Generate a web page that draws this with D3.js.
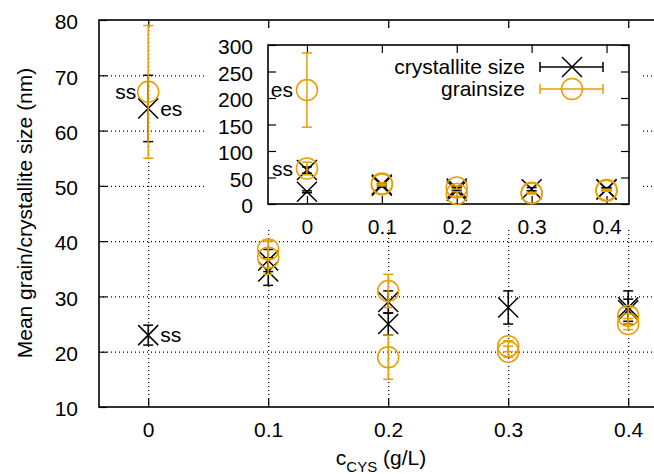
<!DOCTYPE html>
<html>
<head>
<meta charset="utf-8">
<script src="https://d3js.org/d3.v7.min.js"></script>
<style>
  body { margin: 0; background: #fff; }
  text { font-family: "Liberation Sans", Arial, Helvetica, sans-serif; font-size: 21px; fill: #000; }
  .grid line { stroke: #000; stroke-width: 1; stroke-dasharray: 1,3; }
  .tick line { stroke: #000; stroke-width: 1.2; }
</style>
</head>
<body>
<svg width="654" height="474"></svg>
<script>
// concentration ticks
var xTicks = [0, 0.1, 0.2, 0.3, 0.4];
var xTickLabels = ["0", "0.1", "0.2", "0.3", "0.4"];
var yTicks = [10, 20, 30, 40, 50, 60, 70, 80];
var yInsetTicks = [0, 50, 100, 150, 200, 250, 300];

// crystallite size (nm), XRD
var crystConc = [0, 0, 0.1, 0.1, 0.2, 0.2, 0.3, 0.4, 0.4];
var crystSize = [23, 64, 36.5, 34.5, 29, 25, 28, 28, 27.5];
var crystErr  = [1.8, 6, 2, 2.5, 2, 2, 3, 3, 2];

// grain size (nm)
var grainConc = [0, 0, 0.1, 0.1, 0.2, 0.2, 0.3, 0.3, 0.4, 0.4];
var grainSize = [67, 215, 38.5, 37, 31, 19, 21, 20, 26.5, 25];
var grainErr  = [12, 70, 1.7, 3, 3, 4, 1, 1, 1.5, 1];

// point annotations
var mainNotes = [
  {c: 0, v: 67, t: "ss", side: -1},
  {c: 0, v: 64, t: "es", side: 1},
  {c: 0, v: 23, t: "ss", side: 1}
];
var insetNotes = [
  {c: 0, v: 215, t: "es", side: -1},
  {c: 0, v: 67, t: "ss", side: -1}
];

var orange = "#E69F00";
var svg = d3.select("svg");

var x = d3.scaleLinear().domain([-0.041, 0.439]).range([99, 675]);
var y = d3.scaleLinear().domain([10, 80]).range([407, 20]);

var xi = d3.scaleLinear().domain([-0.052, 0.43]).range([268, 629]);
var yi = d3.scaleLinear().domain([0, 300]).range([204, 45]);

function crystData() {
  return crystConc.map(function(c, i) { return {c: c, v: crystSize[i], e: crystErr[i]}; });
}
function grainData() {
  return grainConc.map(function(c, i) { return {c: c, v: grainSize[i], e: grainErr[i]}; });
}

function drawSeries(g, data, sx, sy, color, marker) {
  var dom = sy.domain();
  data = data.filter(function(d) { return d.v >= dom[0] && d.v <= dom[1]; });
  var pts = g.append("g").selectAll("g").data(data).enter().append("g")
    .attr("stroke", color).attr("stroke-width", 1.5).attr("fill", "none");
  pts.append("line")
    .attr("x1", function(d) { return sx(d.c); }).attr("x2", function(d) { return sx(d.c); })
    .attr("y1", function(d) { return sy(Math.max(d.v - d.e, dom[0])); })
    .attr("y2", function(d) { return sy(Math.min(d.v + d.e, dom[1])); });
  [1, -1].forEach(function(s) {
    pts.append("line")
      .attr("x1", function(d) { return sx(d.c) - 5; }).attr("x2", function(d) { return sx(d.c) + 5; })
      .attr("y1", function(d) { return sy(d.v + s * d.e); }).attr("y2", function(d) { return sy(d.v + s * d.e); });
  });
  pts.each(function(d) {
    drawMarker(d3.select(this), sx(d.c), sy(d.v), marker);
  });
}

function drawMarker(sel, cx, cy, marker) {
  if (marker === "x") {
    sel.append("path").attr("d", "M" + (cx - 10) + "," + (cy - 10) + "L" + (cx + 10) + "," + (cy + 10) +
      "M" + (cx - 10) + "," + (cy + 10) + "L" + (cx + 10) + "," + (cy - 10));
  } else {
    sel.append("circle").attr("cx", cx).attr("cy", cy).attr("r", 10.5);
  }
}

function drawNotes(g, notes, sx, sy, off) {
  g.selectAll("text.note").data(notes).enter().append("text")
    .attr("class", "note")
    .attr("x", function(d) { return sx(d.c) + d.side * off; })
    .attr("y", function(d) { return sy(d.v); })
    .attr("dy", "0.35em")
    .attr("text-anchor", function(d) { return d.side < 0 ? "end" : "start"; })
    .text(function(d) { return d.t; });
}

function plain(g) {
  g.select(".domain").remove();
  g.attr("font-family", null).attr("font-size", null);
}

// ---------- main plot ----------
var grid = svg.append("g").attr("class", "grid");
grid.append("g").attr("transform", "translate(0,407)")
  .call(d3.axisBottom(x).tickValues(xTicks).tickSize(-387).tickFormat(""))
  .call(plain);
grid.append("g").attr("transform", "translate(99,0)")
  .call(d3.axisLeft(y).tickValues(yTicks.slice(1, -1)).tickSize(-576).tickFormat(""))
  .call(plain);
grid.selectAll("line").attr("class", null);

svg.append("g").attr("transform", "translate(0,407)")
  .call(d3.axisBottom(x).tickValues(xTicks).tickSize(-8).tickPadding(15)
    .tickFormat(function(d, i) { return xTickLabels[i]; }))
  .call(plain);
svg.append("g").attr("transform", "translate(0,20)")
  .call(d3.axisTop(x).tickValues(xTicks).tickSize(-8).tickFormat(""))
  .call(plain);
svg.append("g").attr("transform", "translate(99,0)")
  .call(d3.axisLeft(y).tickValues(yTicks).tickSize(-8).tickPadding(21))
  .call(plain)
  .call(function(g) { g.selectAll("text").attr("dy", "0.42em"); });

svg.append("rect").attr("x", 99).attr("y", 20).attr("width", 576).attr("height", 387)
  .attr("fill", "none").attr("stroke", "#000").attr("stroke-width", 1.6);

var mainData = svg.append("g");
drawSeries(mainData, crystData(), x, y, "#000", "x");
drawSeries(mainData, grainData(), x, y, orange, "o");
drawNotes(svg, mainNotes, x, y, 12);

// axis titles
svg.append("text").attr("transform", "translate(32,213) rotate(-90)")
  .attr("text-anchor", "middle").text("Mean grain/crystallite size (nm)");
var xl = svg.append("text").attr("x", 381).attr("y", 465).attr("text-anchor", "middle");
xl.append("tspan").text("c");
xl.append("tspan").attr("dy", 7).attr("font-size", "15px").text("CYS");
xl.append("tspan").attr("dy", -7).text(" (g/L)");

// ---------- inset ----------
svg.append("rect").attr("x", 207).attr("y", 30).attr("width", 434).attr("height", 199).attr("fill", "#fff");

var inset = svg.append("g");
inset.append("g").attr("transform", "translate(0,204)")
  .call(d3.axisBottom(xi).tickValues(xTicks).tickSize(-8).tickPadding(15)
    .tickFormat(function(d, i) { return xTickLabels[i]; }))
  .call(plain);
inset.append("g").attr("transform", "translate(0,45)")
  .call(d3.axisTop(xi).tickValues(xTicks).tickSize(-8).tickFormat(""))
  .call(plain);
inset.append("g").attr("transform", "translate(268,0)")
  .call(d3.axisLeft(yi).tickValues(yInsetTicks).tickSize(-8).tickPadding(15))
  .call(plain)
  .call(function(g) { g.selectAll("text").attr("dy", "0.42em"); });
inset.append("g").attr("transform", "translate(629,0)")
  .call(d3.axisRight(yi).tickValues(yInsetTicks).tickSize(-8).tickFormat(""))
  .call(plain);

inset.append("rect").attr("x", 268).attr("y", 45).attr("width", 361).attr("height", 159)
  .attr("fill", "none").attr("stroke", "#000").attr("stroke-width", 1.6);

drawSeries(inset, crystData(), xi, yi, "#000", "x");
drawSeries(inset, grainData(), xi, yi, orange, "o");
drawNotes(inset, insetNotes, xi, yi, 14);

// legend
var legendItems = [
  {label: "crystallite size", color: "#000", marker: "x"},
  {label: "grainsize", color: orange, marker: "o"}
];
var lg = inset.selectAll("g.key").data(legendItems).enter().append("g").attr("class", "key")
  .attr("transform", function(d, i) { return "translate(0," + (67 + i * 22) + ")"; });
lg.append("text").attr("x", 525).attr("dy", "0.35em").attr("text-anchor", "end")
  .text(function(d) { return d.label; });
lg.each(function(d) {
  var s = d3.select(this).append("g").attr("stroke", d.color).attr("stroke-width", 1.5).attr("fill", "none");
  s.append("line").attr("x1", 540).attr("x2", 603).attr("y1", 0).attr("y2", 0);
  s.append("line").attr("x1", 540).attr("x2", 540).attr("y1", -5).attr("y2", 5);
  s.append("line").attr("x1", 603).attr("x2", 603).attr("y1", -5).attr("y2", 5);
  drawMarker(s, 572, 0, d.marker);
});
</script>
</body>
</html>
